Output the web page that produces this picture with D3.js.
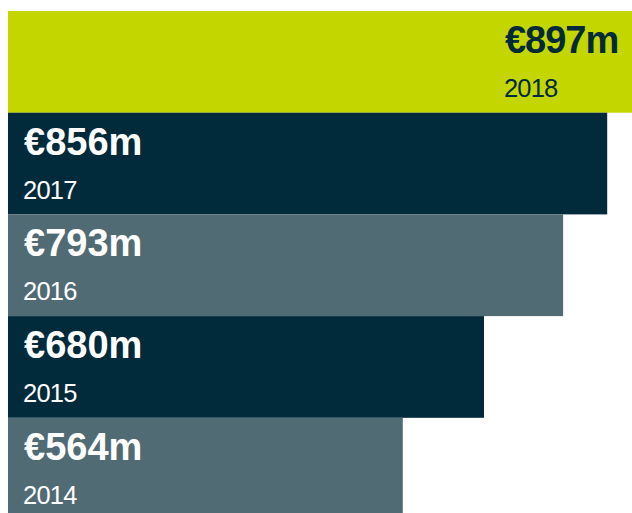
<!DOCTYPE html>
<html>
<head>
<meta charset="utf-8">
<script src="https://cdn.jsdelivr.net/npm/d3@7"></script>
<style>
  html, body { margin: 0; padding: 0; background: #fff; overflow: hidden; }
  svg { display: block; font-family: "Liberation Sans", Arial, Helvetica, sans-serif; }
</style>
</head>
<body>
<div id="chart"></div>
<script>
// Revenue by year, € millions
const years = ["2018", "2017", "2016", "2015", "2014"];
const revenue = [897, 856, 793, 680, 564];
const valueLabels = ["€897m", "€856m", "€793m", "€680m", "€564m"];
const barColors = ["#c4d600", "#012a3b", "#516b75", "#012a3b", "#516b75"];

const width = 632;
const height = 513;

const svg = d3.select("#chart").append("svg")
    .attr("width", width)
    .attr("height", height);

const data = years.map((y, i) => ({
    year: y,
    value: revenue[i],
    label: valueLabels[i],
    color: barColors[i]
}));

// x scale: bars start at the left edge
const x = d3.scaleLinear()
    .domain([0, 900])
    .range([8, 638]);

// y scale: one band per year, no padding
const y = d3.scaleBand()
    .domain(years)
    .range([11, 11 + 101.7 * years.length])
    .padding(0);

const rows = svg.selectAll("g.row")
    .data(data)
    .enter()
    .append("g")
    .attr("class", "row")
    .attr("transform", d => `translate(0, ${y(d.year)})`);

rows.append("rect")
    .attr("x", x(0))
    .attr("y", 0)
    .attr("width", d => x(d.value) - x(0))
    .attr("height", y.bandwidth())
    .attr("fill", d => d.color);

// first (latest) bar has its text near the end, dark on lime
const textX = (d, i) => i === 0 ? x(d.value) - 132 : 23;
const textColor = (d, i) => i === 0 ? "#012a3b" : "#ffffff";

rows.append("text")
    .attr("x", (d, i) => textX(d, i) + 1)
    .attr("y", 42)
    .attr("fill", textColor)
    .style("font-size", "38px")
    .style("font-weight", "bold")
    .style("letter-spacing", (d, i) => i === 0 ? "-1px" : "0px")
    .text(d => d.label);

rows.append("text")
    .attr("x", textX)
    .attr("y", 86)
    .attr("fill", textColor)
    .style("font-size", "25.5px")
    .style("font-weight", "normal")
    .style("letter-spacing", "-0.8px")
    .text(d => d.year);
</script>
</body>
</html>
